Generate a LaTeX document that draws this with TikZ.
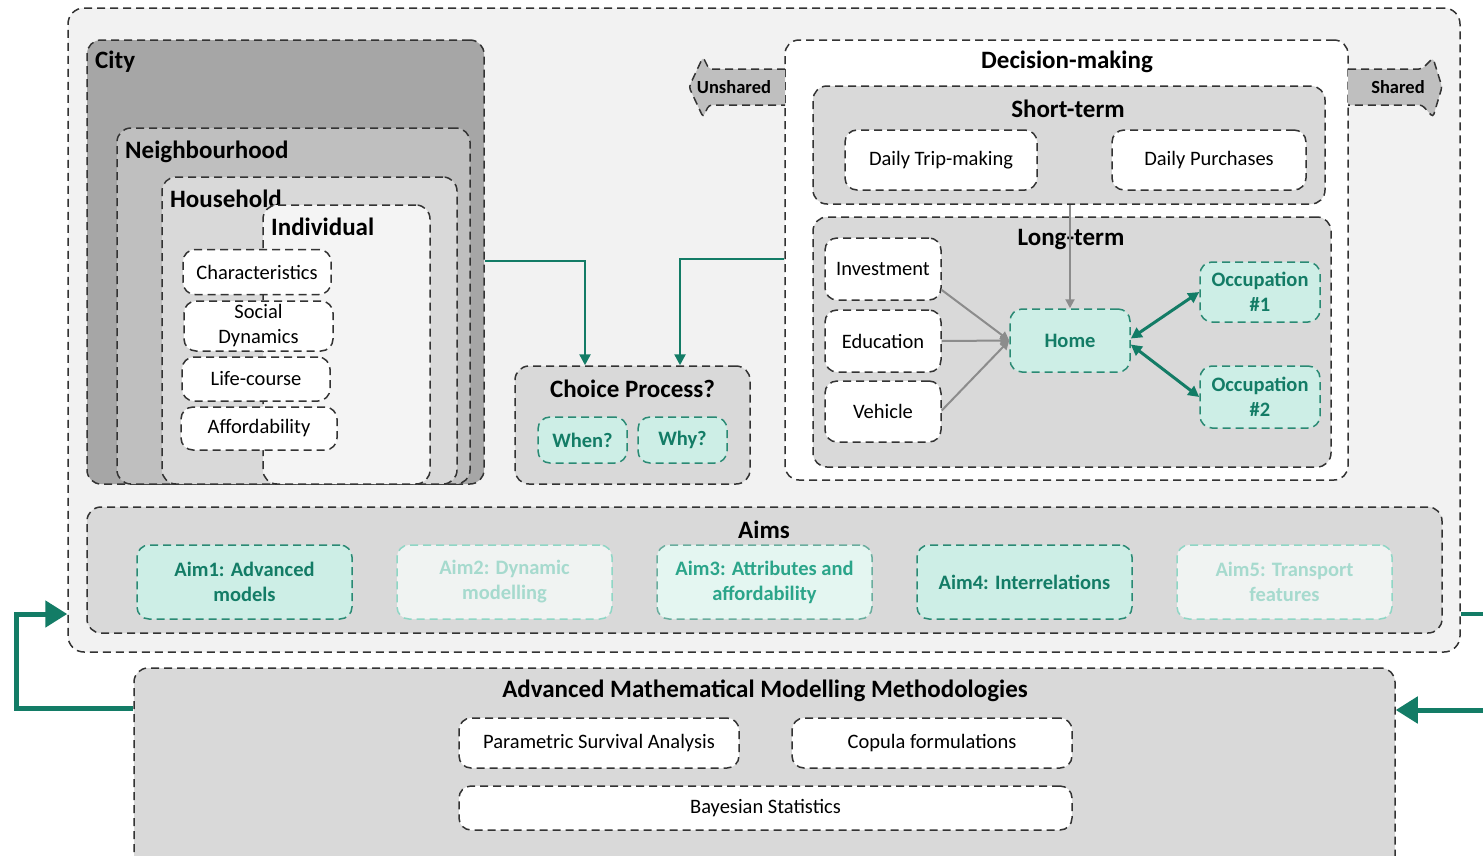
\documentclass[tikz,border=0pt]{standalone}
\usepackage{fontspec}
\setmainfont{Carlito}
\usetikzlibrary{arrows.meta}
\definecolor{bgOuter}{HTML}{F2F2F2}
\definecolor{cCity}{HTML}{A6A6A6}
\definecolor{cNeigh}{HTML}{BFBFBF}
\definecolor{cHouse}{HTML}{D9D9D9}
\definecolor{cIndiv}{HTML}{F4F4F4}
\definecolor{cPanel}{HTML}{D9D9D9}
\definecolor{cBorder}{HTML}{333333}
\definecolor{tealD}{HTML}{137C66}
\definecolor{tealB}{HTML}{2A8A74}
\definecolor{tealF}{HTML}{CDEEE6}
\definecolor{tealMidF}{HTML}{E4F6F1}
\definecolor{tealMidT}{HTML}{2BA58A}
\definecolor{fadeF}{HTML}{F0F3F2}
\definecolor{fadeB}{HTML}{8FD6C5}
\definecolor{fadeT}{HTML}{A6DACE}
\definecolor{arrGray}{HTML}{8C8C8C}
\definecolor{cArrow}{HTML}{BFBFBF}
\tikzset{
  dbox/.style={draw=cBorder, line width=1.5pt, dash pattern=on 8pt off 5pt, rounded corners=14pt, inner sep=0pt},
  whitebox/.style={dbox, fill=white, rounded corners=12pt, font=\fontsize{20.5}{25}\selectfont, align=center},
  tealbox/.style={dbox, draw=tealB, fill=tealF, rounded corners=12pt, text=tealD, font=\fontsize{20.5}{25}\selectfont\bfseries, align=center},
  aimstrong/.style={tealbox, minimum width=215pt, minimum height=74pt},
  aimmid/.style={aimstrong, fill=tealMidF, draw=tealB!70, text=tealMidT},
  aimfade/.style={aimstrong, fill=fadeF, draw=fadeB, text=fadeT},
  ttl/.style={font=\fontsize{25}{29}\selectfont\bfseries, inner sep=0pt},
  grayarr/.style={draw=arrGray, line width=2pt, -{Triangle[length=9pt,width=9pt]}},
  tealarr/.style={draw=tealD, line width=3pt, {Triangle[length=11pt,width=11pt]}-{Triangle[length=11pt,width=11pt]}},
  link/.style={draw=tealD, line width=2.5pt, -{Triangle[length=11pt,width=11pt]}},
  fb/.style={draw=tealD, line width=5pt},
  bigarrowhead/.style={-{Triangle[length=22pt,width=26pt]}},
  flag/.style={draw=cBorder, line width=1.5pt, dash pattern=on 8pt off 5pt, fill=cArrow, rounded corners=3pt}
}
\begin{document}
\begin{tikzpicture}[x=1pt,y=-1pt]
\useasboundingbox (0,0) rectangle (1483,855);
\clip (0,0) rectangle (1483,855);
\fill[white] (0,0) rectangle (1483,855);

% outer container
\node[dbox, fill=bgOuter, rounded corners=16pt, minimum width=1392pt, minimum height=644pt] (outer) at (764,330) {};

% nested spatial levels
\node[dbox, fill=cCity, minimum width=397pt, minimum height=444pt] (city) at (285.5,262) {};
\node[ttl, anchor=west] (cityT) at (95,62) {City};
\node[dbox, fill=cNeigh, minimum width=353pt, minimum height=356pt] (neigh) at (293.5,306) {};
\node[ttl, anchor=west] (neighT) at (125,152) {Neighbourhood};
\node[dbox, fill=cHouse, minimum width=295pt, minimum height=307pt] (house) at (309.5,330.5) {};
\node[ttl, anchor=west] (houseT) at (170,199) {Household};
\node[dbox, fill=cIndiv, minimum width=167pt, minimum height=279pt] (indiv) at (346.5,344.5) {};
\node[ttl, anchor=west] (indivT) at (271,227) {Individual};

\node[whitebox, minimum width=148pt, minimum height=45pt] (char) at (257,272) {Characteristics};
\node[whitebox, minimum width=149pt, minimum height=50pt] (social) at (258.5,326) {Social\\Dynamics};
\node[whitebox, minimum width=148pt, minimum height=44pt] (life) at (256,379) {Life-course};
\node[whitebox, minimum width=156pt, minimum height=43pt] (afford) at (259,428.5) {Affordability};

% choice process
\node[dbox, fill=cPanel, minimum width=235pt, minimum height=118pt] (choice) at (632.5,425) {};
\node[ttl] (choiceT) at (632.5,389) {Choice Process?};
\node[tealbox, minimum width=89pt, minimum height=46pt] (when) at (582.5,440) {When?};
\node[tealbox, minimum width=89pt, minimum height=46pt] (why) at (682.5,440) {Why?};

% decision-making
\node[dbox, fill=white, minimum width=563pt, minimum height=440pt] (dm) at (1066.5,260) {};
\node[ttl] (dmT) at (1067,62) {Decision-making};

% unshared / shared flags
\path[flag] (785,69) -- (709,69) -- (703,57) -- (689,87) -- (703,117) -- (709,105) -- (785,105);
\node[font=\fontsize{18.5}{22}\selectfont\bfseries, inner sep=0pt] (unshT) at (734,87) {Unshared};
\path[flag] (1348,69) -- (1422,69) -- (1433,58) -- (1442,87) -- (1433,117) -- (1422,105) -- (1348,105);
\node[font=\fontsize{18.5}{22}\selectfont\bfseries, inner sep=0pt] (shT) at (1398,87) {Shared};

\node[dbox, fill=cPanel, minimum width=512pt, minimum height=118pt] (short) at (1069,145) {};
\node[ttl] (shortT) at (1068,109) {Short-term};
\node[whitebox, minimum width=192pt, minimum height=60pt] (trip) at (941,160) {Daily Trip-making};
\node[whitebox, minimum width=194pt, minimum height=60pt] (purch) at (1209,160) {Daily Purchases};

\node[dbox, fill=cPanel, minimum width=518pt, minimum height=250pt] (long) at (1072,342) {};
\node[ttl] (longT) at (1071,240) {Long-term};
\node[whitebox, minimum width=116pt, minimum height=62pt] (inv) at (883,269) {Investment};
\node[whitebox, minimum width=116pt, minimum height=62pt] (edu) at (883,341) {Education};
\node[whitebox, minimum width=116pt, minimum height=61pt] (veh) at (883,411.5) {Vehicle};
\node[tealbox, minimum width=120pt, minimum height=63pt] (home) at (1070,340.5) {Home};
\node[tealbox, minimum width=120pt, minimum height=60pt] (occ1) at (1260,292) {Occupation\\\#1};
\node[tealbox, minimum width=120pt, minimum height=62pt] (occ2) at (1260,397) {Occupation\\\#2};

\draw[grayarr] ([yshift=-21pt]inv.east) -- (home.west);
\draw[grayarr] (edu.east) -- (home.west);
\draw[grayarr] ([yshift=1pt]veh.east) -- (home.west);
\draw[grayarr] (home.north |- short.south) -- (home.north);
\draw[tealarr] ([yshift=2pt]home.east) -- (occ1.west);
\draw[tealarr] ([yshift=-4pt]home.east) -- (occ2.west);

% links into choice process
\coordinate (c1) at (585,261);
\coordinate (c2) at (680,259);
\draw[link] (city.east |- c1) -- (c1) -- (c1 |- choice.north);
\draw[link] (dm.west |- c2) -- (c2) -- (c2 |- choice.north);

% aims
\node[dbox, fill=cPanel, minimum width=1355pt, minimum height=126pt] (aims) at (764.5,570) {};
\node[ttl] (aimsT) at (764,530) {Aims};
\node[aimstrong] (aim1) at (244.5,582) {Aim1: Advanced\\models};
\node[aimfade] (aim2) at (504.5,582) {Aim2: Dynamic\\modelling};
\node[aimmid] (aim3) at (764.5,582) {Aim3: Attributes and\\affordability};
\node[aimstrong] (aim4) at (1024.5,582) {Aim4: Interrelations};
\node[aimfade] (aim5) at (1284.5,582) {Aim5: Transport\\features};

% methodologies
\node[dbox, fill=cPanel, minimum width=1261pt, minimum height=202pt] (meth) at (764.5,769) {};
\node[ttl] (methT) at (765,691) {Advanced Mathematical Modelling Methodologies};
\node[whitebox, minimum width=280pt, minimum height=50pt] (psa) at (599,743) {Parametric Survival Analysis};
\node[whitebox, minimum width=280pt, minimum height=50pt] (cop) at (932,743) {Copula formulations};
\node[whitebox, minimum width=613pt, minimum height=44pt] (bayes) at (765.5,808) {Bayesian Statistics};

% feedback loops
\coordinate (fbL1) at (16,708);
\coordinate (fbL2) at (16,614);
\draw[fb, bigarrowhead] (meth.west |- fbL1) -- (fbL1) -- (fbL2) -- (outer.west |- fbL2);
\coordinate (fbR1) at (1483,710);
\coordinate (fbR2) at (1483,614);
\draw[fb, bigarrowhead] (fbR1) -- (meth.east |- fbR1);
\draw[fb, line width=4pt] (outer.east |- fbR2) -- (fbR2);
\end{tikzpicture}
\end{document}
